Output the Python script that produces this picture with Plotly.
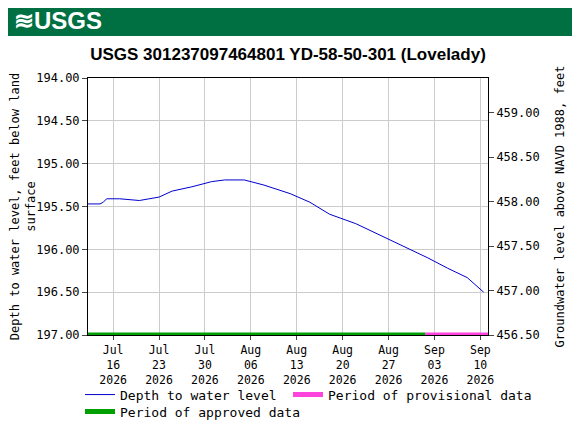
import plotly.graph_objects as go

# Depth to water level, feet below land surface
dates = ["2026-07-12", "2026-07-14", "2026-07-14 12:00", "2026-07-15", "2026-07-17",
         "2026-07-20", "2026-07-23", "2026-07-25", "2026-07-28", "2026-07-31",
         "2026-08-02", "2026-08-05", "2026-08-08", "2026-08-12", "2026-08-15",
         "2026-08-18", "2026-08-22", "2026-08-25", "2026-08-29", "2026-09-02",
         "2026-09-05", "2026-09-08", "2026-09-10 12:00"]
depth = [195.47, 195.47, 195.45, 195.41, 195.41,
         195.43, 195.39, 195.32, 195.27, 195.21,
         195.19, 195.19, 195.25, 195.35, 195.45,
         195.59, 195.70, 195.81, 195.95, 196.10,
         196.22, 196.33, 196.50]
approved = ["2026-07-12", "2026-09-01 14:00"]
provisional = ["2026-09-01 14:00", "2026-09-11 04:00"]
tick_dates = ["2026-07-16", "2026-07-23", "2026-07-30", "2026-08-06",
              "2026-08-13", "2026-08-20", "2026-08-27", "2026-09-03", "2026-09-10"]
tick_text = ["Jul<br>16<br>2026", "Jul<br>23<br>2026", "Jul<br>30<br>2026",
             "Aug<br>06<br>2026", "Aug<br>13<br>2026", "Aug<br>20<br>2026",
             "Aug<br>27<br>2026", "Sep<br>03<br>2026", "Sep<br>10<br>2026"]

MONO = "DejaVu Sans Mono"
fig = go.Figure()
fig.add_trace(go.Scatter(x=dates, y=depth, mode="lines", name="Depth to water level",
                         line=dict(color="#0000cc", width=1)))
fig.add_trace(go.Scatter(x=provisional, y=[197, 197], mode="lines",
                         name="Period of provisional data", legend="legend3",
                         line=dict(color="#ff44dd", width=5)))
fig.add_trace(go.Scatter(x=approved, y=[197, 197], mode="lines",
                         name="Period of approved data", legend="legend2",
                         line=dict(color="#00a000", width=5)))
fig.add_trace(go.Scatter(x=[dates[0]], y=[458], yaxis="y2", mode="markers",
                         marker=dict(opacity=0), showlegend=False, hoverinfo="skip"))

leg = dict(orientation="h", xanchor="left", yanchor="middle", font=dict(size=13),
           bgcolor="rgba(0,0,0,0)")
fig.update_layout(
    width=580, height=430,
    margin=dict(l=80, r=100, t=70, b=103, autoexpand=False),
    paper_bgcolor="white", plot_bgcolor="white",
    font=dict(family=MONO, size=12, color="black"),
    title=dict(text="<b>USGS 301237097464801 YD-58-50-301 (Lovelady)</b>",
               x=0.5, xanchor="center", xref="paper", y=0.893, yref="container",
               yanchor="middle",
               font=dict(family="Liberation Sans Narrow, Arial", size=17)),
    xaxis=dict(range=["2026-07-12 04:00", "2026-09-11 04:00"], automargin=False,
               tickvals=tick_dates, ticktext=tick_text, ticks="outside", ticklen=4,
               showgrid=True, gridcolor="#cccccc", showline=True,
               linecolor="black", mirror=True, tickfont=dict(size=11.5)),
    yaxis=dict(range=[197, 194], tickvals=[194, 194.5, 195, 195.5, 196, 196.5, 197],
               tickformat=".2f", ticks="outside", showgrid=True, gridcolor="#cccccc",
               showline=True, linecolor="black", mirror=True, automargin=False,
               title=dict(text="Depth to water level, feet below land<br>surface",
                          font=dict(size=12), standoff=6)),
    yaxis2=dict(overlaying="y", side="right", range=[456.5, 459.39],
                tickvals=[456.5, 457, 457.5, 458, 458.5, 459], tickformat=".2f",
                ticks="outside", showgrid=False, automargin=False,
                title=dict(text="Groundwater level above NAVD 1988, feet",
                           font=dict(size=12), standoff=16)),
    legend=dict(leg, x=-0.02, y=-0.232),
    legend3=dict(leg, x=0.50, y=-0.232),
    legend2=dict(leg, x=-0.02, y=-0.298),
    shapes=[dict(type="rect", xref="paper", yref="paper", x0=-0.205, x1=1.22,
                 y0=1.163, y1=1.28, fillcolor="#006f41", line=dict(width=0),
                 layer="below")],
    annotations=[dict(text="<b>≋USGS</b>", xref="paper", yref="paper",
                      x=-0.19, y=1.222, xanchor="left", yanchor="middle",
                      showarrow=False,
                      font=dict(family="Liberation Sans Narrow, Arial", size=24,
                                color="white"))],
)
fig.write_html("out.html")
